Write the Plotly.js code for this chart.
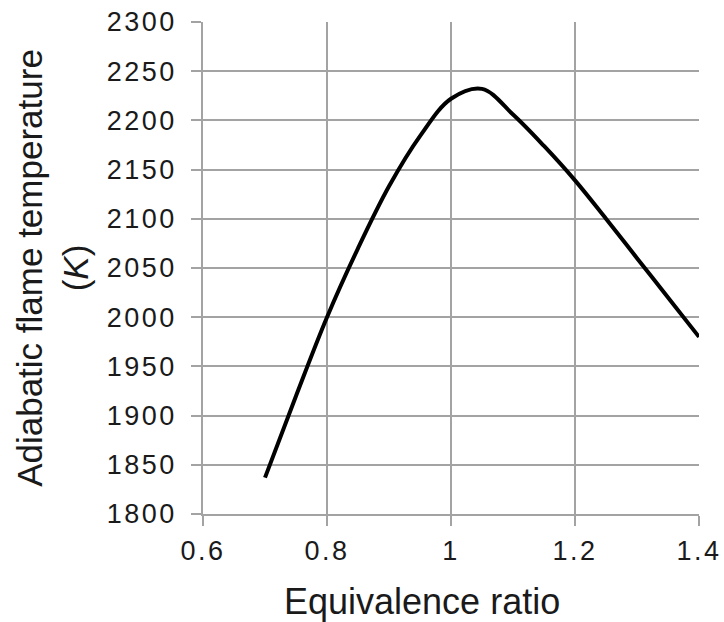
<!DOCTYPE html>
<html>
<head>
<meta charset="utf-8">
<script src="https://cdn.plot.ly/plotly-3.0.1.min.js"></script>
<style>
  html, body { margin: 0; padding: 0; background: #ffffff; }
  #chart { width: 724px; height: 622px; }
  #chart .xtick text, #chart .ytick text { letter-spacing: 2.5px; }
</style>
</head>
<body>
<div id="chart"></div>
<script>
// Equivalence ratio (x) and adiabatic flame temperature in K (y)
const equivalenceRatio = [0.70, 0.75, 0.80, 0.85, 0.90, 0.95, 1.00, 1.05, 1.10, 1.15, 1.20, 1.25, 1.30, 1.35, 1.40];
const flameTemperature = [1837, 1920, 2000, 2070, 2133, 2184, 2222, 2232, 2206, 2174, 2139, 2100, 2060, 2020, 1980];

const xTickValues = [0.6, 0.8, 1.0, 1.2, 1.4];
const xTickLabels = ["0.6", "0.8", "1", "1.2", "1.4"];
const yTickValues = [1800, 1850, 1900, 1950, 2000, 2050, 2100, 2150, 2200, 2250, 2300];
const yTickLabels = ["1800", "1850", "1900", "1950", "2000", "2050", "2100", "2150", "2200", "2250", "2300"];

const xTitle = "Equivalence ratio";
const yTitle = "Adiabatic flame temperature<br>(<i>K</i>)";

const gridColor = "#a3a3a3";
const textColor = "#1a1a1a";
const fontFamily = "'Liberation Sans', Arial, sans-serif";

const trace = {
  x: equivalenceRatio,
  y: flameTemperature,
  type: "scatter",
  mode: "lines",
  line: { color: "#000000", width: 4, shape: "spline", smoothing: 1 },
  hoverinfo: "x+y",
  showlegend: false
};

const layout = {
  width: 724,
  height: 622,
  margin: { l: 203, r: 25, t: 22, b: 108 },
  paper_bgcolor: "#ffffff",
  plot_bgcolor: "#ffffff",
  font: { family: fontFamily, color: textColor, size: 27 },
  showlegend: false,
  xaxis: {
    range: [0.6, 1.4],
    tickmode: "array",
    tickvals: xTickValues,
    ticktext: xTickLabels,
    ticks: "outside",
    ticklen: 10,
    tickwidth: 1.5,
    tickcolor: gridColor,
    ticklabelstandoff: 2,
    showgrid: true,
    gridcolor: gridColor,
    gridwidth: 1.5,
    showline: true,
    linecolor: gridColor,
    linewidth: 1.5,
    zeroline: false,
    tickfont: { family: fontFamily, size: 27, color: textColor },
    automargin: false
  },
  yaxis: {
    range: [1800, 2300],
    tickmode: "array",
    tickvals: yTickValues,
    ticktext: yTickLabels,
    ticks: "outside",
    ticklen: 10,
    tickwidth: 1.5,
    tickcolor: gridColor,
    ticklabelstandoff: 9,
    showgrid: true,
    gridcolor: gridColor,
    gridwidth: 1.5,
    showline: true,
    linecolor: gridColor,
    linewidth: 1.5,
    zeroline: false,
    tickfont: { family: fontFamily, size: 27, color: textColor },
    title: { text: yTitle, font: { family: fontFamily, size: 35, color: textColor }, standoff: 18 },
    automargin: false
  },
  annotations: [{
    text: xTitle,
    xref: "paper", yref: "paper",
    x: 0.4425, y: 0,
    xanchor: "center", yanchor: "top",
    yshift: -65,
    showarrow: false,
    font: { family: fontFamily, size: 36, color: textColor }
  }]
};

Plotly.newPlot("chart", [trace], layout, { displayModeBar: false });
</script>
</body>
</html>
